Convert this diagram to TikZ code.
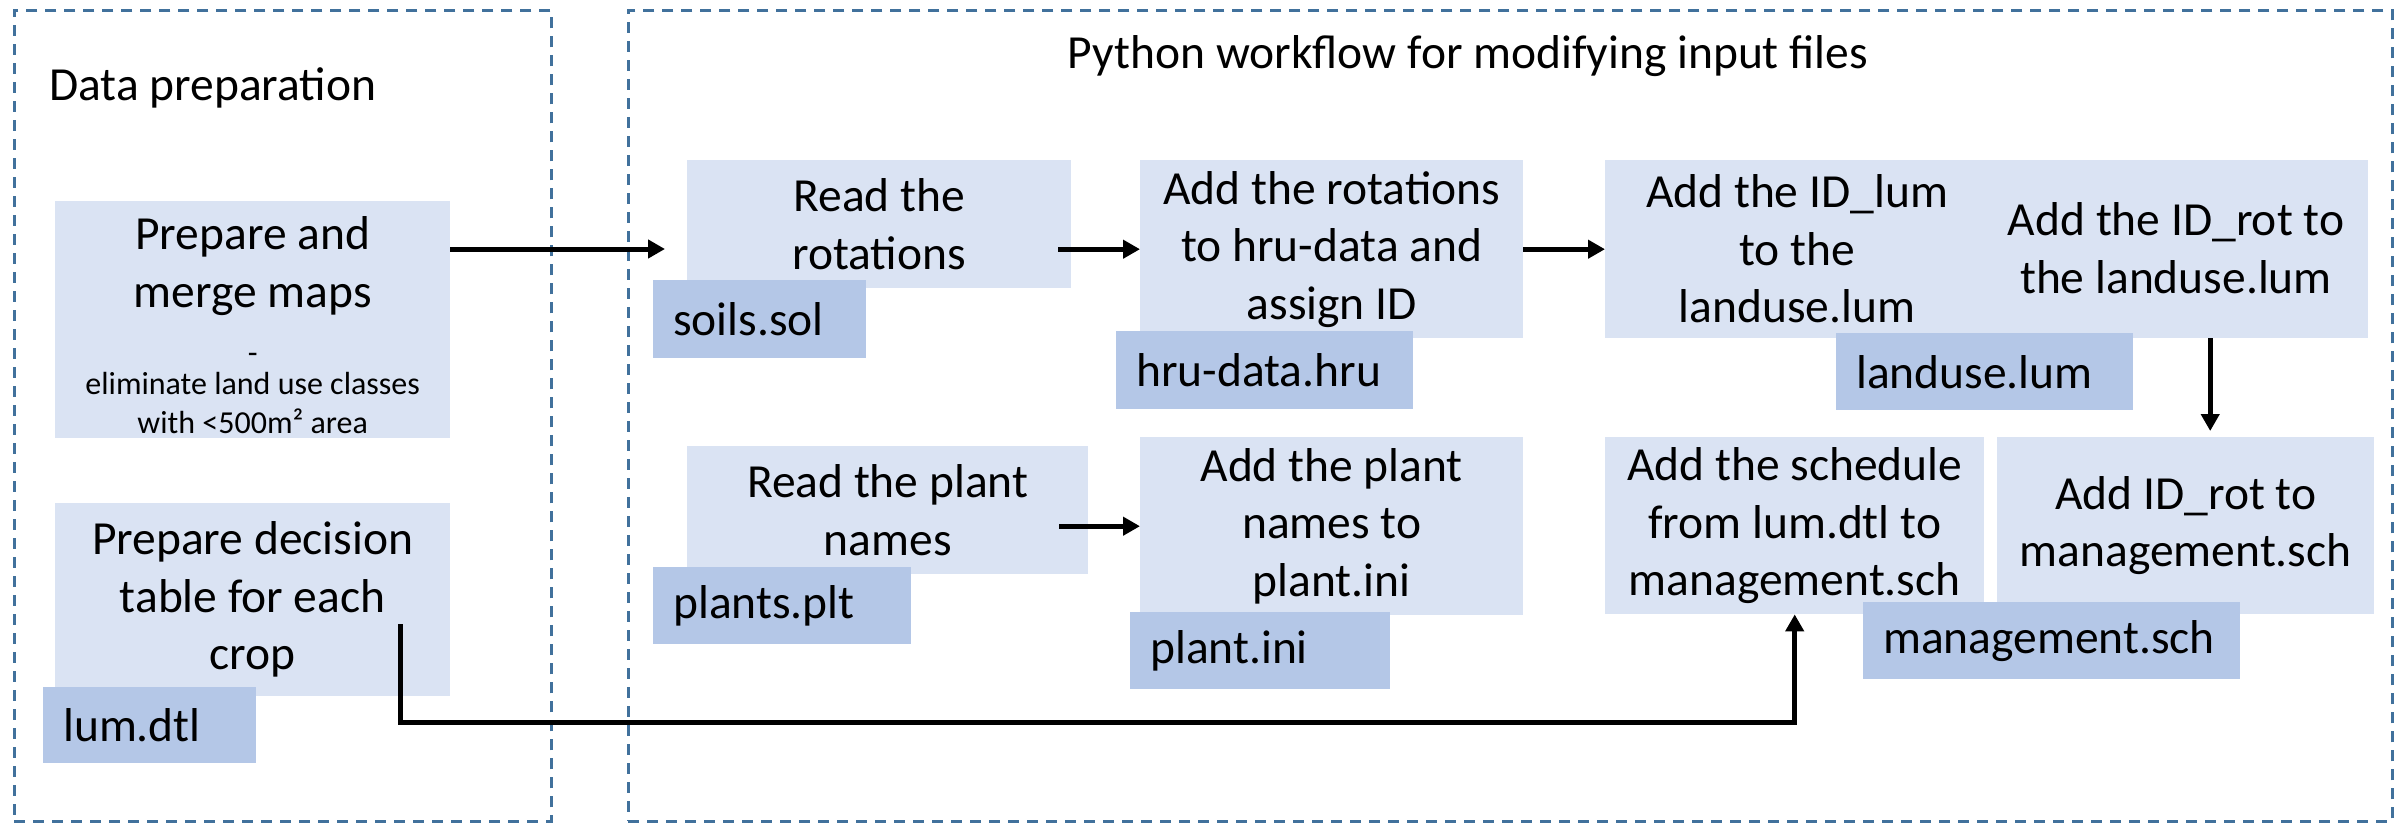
\documentclass[tikz,border=0pt]{standalone}
\usepackage{fontspec}
\setmainfont{Carlito}
\usetikzlibrary{arrows.meta}
\definecolor{boxlight}{HTML}{DAE3F3}
\definecolor{boxfile}{HTML}{B4C7E7}
\definecolor{frameblue}{HTML}{41719C}
\newcommand\fbig{\fontsize{47.5pt}{57.5pt}\selectfont}
\newcommand\fsmall{\fontsize{32pt}{38pt}\selectfont}
\begin{document}
\begin{tikzpicture}[x=1pt,y=-1pt,
  frame/.style={draw=frameblue, line width=2.5pt, dash pattern=on 11pt off 8pt, inner sep=0pt, anchor=north west},
  plain/.style={inner sep=0pt, font=\fbig},
  mainbox/.style={fill=boxlight, inner sep=0pt, align=center, font=\fbig, anchor=north west},
  filebox/.style={fill=boxfile, inner xsep=20pt, inner ysep=0pt, align=left, anchor=north west,
    font={\fbig\hyphenpenalty=10000 \exhyphenpenalty=10000 }},
  textblock/.style={inner sep=0pt, align=center, font=\fbig},
  conn/.style={line width=5pt, -{Triangle[length=17pt,width=18pt]}}]
\useasboundingbox (0,0) rectangle (2400,822);

% frames
\node[frame, minimum width=537pt, minimum height=811pt] (leftframe) at (13,9) {};
\node[frame, minimum width=1764pt, minimum height=811pt] (rightframe) at (627,9) {};

% titles
\node[plain, anchor=base west] (dataprep) at (49,100) {Data preparation};
\node[plain, anchor=base] (title) at (1468,68) {Python workflow for modifying input files};

% data preparation
\node[mainbox, minimum width=395pt, minimum height=237pt] (prep) at (55,201)
  {\mbox{}\\[-13pt]Prepare and\\merge maps\\[-1.5pt]{\fsmall -}\\[-26.5pt]{\fsmall eliminate land use classes}\\[-18pt]{\fsmall with <500m² area}};
\node[mainbox, minimum width=395pt, minimum height=193pt] (decision) at (55,503)
  {Prepare decision\\table for each\\crop};
\node[filebox, text width=173pt, minimum height=76pt] (lumdtl) at (43,687) {lum.dtl};

% python workflow
\node[mainbox, minimum width=384pt, minimum height=128pt] (readrot) at (687,160) {Read the\\rotations};
\node[mainbox, minimum width=383pt, minimum height=178pt] (addrot) at (1140,160) {Add the rotations\\to hru-data and\\assign ID};
\node[mainbox, minimum width=401pt, minimum height=128pt] (readplant) at (687,446) {Read the plant\\names};
\node[mainbox, minimum width=383pt, minimum height=178pt] (addplant) at (1140,437) {Add the plant\\names to\\plant.ini};
\node[mainbox, minimum width=763pt, minimum height=178pt] (big) at (1605,160) {};
\node[textblock] (lumtxt) at (1797,249) {Add the ID\_lum\\to the\\landuse.lum};
\node[textblock] (rottxt) at (2176,248) {Add the ID\_rot to\\the landuse.lum};
\node[mainbox, minimum width=379pt, minimum height=177pt] (sched) at (1605,437) {Add the schedule\\from lum.dtl to\\management.sch};
\node[mainbox, minimum width=377pt, minimum height=177pt] (idrot) at (1997,437) {Add ID\_rot to\\management.sch};

% file labels
\node[filebox, text width=173pt, minimum height=78pt] (soils) at (653,280) {soils.sol};
\node[filebox, text width=257pt, minimum height=78pt] (hru) at (1116,331) {hru-data.hru};
\node[filebox, text width=218pt, minimum height=77pt] (plants) at (653,567) {plants.plt};
\node[filebox, text width=220pt, minimum height=77pt] (plantini) at (1130,612) {plant.ini};
\node[filebox, text width=257pt, minimum height=77pt] (landuse) at (1836,333) {landuse.lum};
\node[filebox, text width=337pt, minimum height=77pt] (mgmt) at (1863,602) {management.sch};

% connectors
\coordinate (a1) at (665,249);
\coordinate (c6) at (400,624);
\coordinate (c6b) at (400,722);
\draw[conn] (prep.east |- a1) -- (a1);
\draw[conn] ([xshift=-13pt]readrot.east |- addrot.west) -- (addrot.west);
\draw[conn] (addrot.east) -- (big.west);
\draw[conn] ([xshift=-29pt]readplant.east |- addplant.west) -- (addplant.west);
\draw[conn] ([xshift=24.5pt]idrot.north |- big.south) -- ([xshift=24.5pt,yshift=6pt]idrot.north);
\draw[conn] (c6) -- (c6b) -| (sched.south);
\end{tikzpicture}
\end{document}
